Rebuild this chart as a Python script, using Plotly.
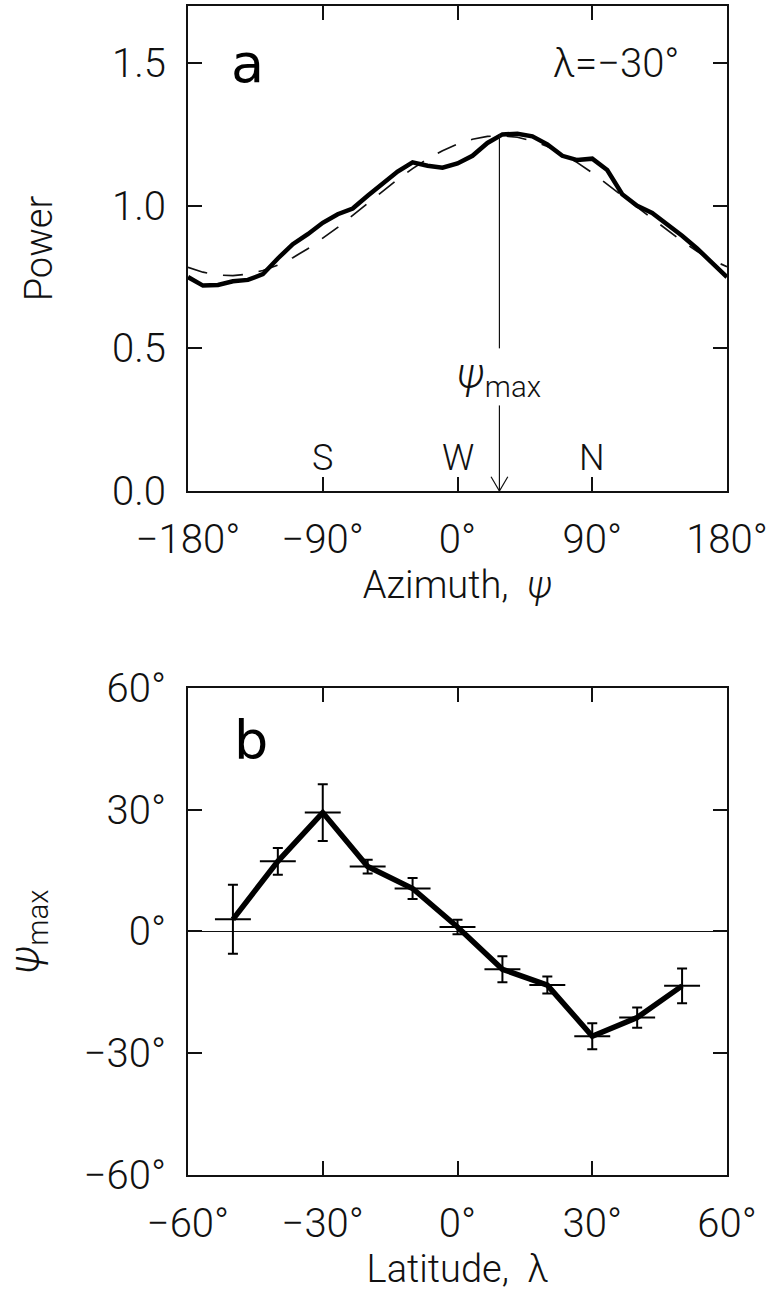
import plotly.graph_objects as go

# ---------------- data: panel a ----------------
azimuth = [-180, -170, -160, -150, -140, -130, -120, -110, -100, -90, -80, -70, -60,
           -50, -40, -30, -20, -10, 0, 10, 20, 30, 40, 50, 60, 70, 80, 90, 100,
           110, 120, 130, 140, 150, 160, 170, 180]
power = [0.75, 0.72, 0.722, 0.735, 0.74, 0.76, 0.815, 0.865, 0.90, 0.94, 0.97, 0.99, 1.035,
         1.08, 1.12, 1.152, 1.14, 1.133, 1.148, 1.175, 1.22, 1.25, 1.252, 1.243, 1.215,
         1.175, 1.16, 1.165, 1.125, 1.04, 1.0, 0.975, 0.935, 0.895, 0.85, 0.80, 0.75]
power_fit = [0.784, 0.767, 0.757, 0.755, 0.760, 0.773, 0.792, 0.818, 0.849, 0.885, 0.924,
             0.966, 1.009, 1.051, 1.092, 1.130, 1.164, 1.193, 1.216, 1.233, 1.243, 1.245,
             1.240, 1.227, 1.208, 1.182, 1.151, 1.115, 1.076, 1.036, 0.995, 0.955, 0.915,
             0.876, 0.840, 0.810, 0.786]
psi_max_a = 28
power_peak = 1.25
compass_labels = ["S", "W", "N"]
compass_az = [-90, 0, 90]
a_xticks = [-180, -90, 0, 90, 180]
a_xticktext = ["\u2212180\u00b0", "\u221290\u00b0", "0\u00b0", "90\u00b0", "180\u00b0"]
a_yticks = [0.0, 0.5, 1.0, 1.5]
a_yticktext = ["0.0", "0.5", "1.0", "1.5"]

# ---------------- data: panel b ----------------
latitude = [-50, -40, -30, -20, -10, 0, 10, 20, 30, 40, 50]
psi_max = [3.0, 17.3, 29.3, 16.0, 10.6, 1.1, -9.3, -13.2, -25.8, -21.2, -13.4]
psi_err = [8.5, 3.3, 7.0, 1.7, 2.6, 1.8, 3.2, 2.1, 3.2, 2.5, 4.3]
lat_err = 4
b_xticks = [-60, -30, 0, 30, 60]
b_xticktext = ["\u221260\u00b0", "\u221230\u00b0", "0\u00b0", "30\u00b0", "60\u00b0"]
b_yticks = [-60, -30, 0, 30, 60]
b_yticktext = ["\u221260\u00b0", "\u221230\u00b0", "0\u00b0", "30\u00b0", "60\u00b0"]

FONT = "Roboto"
INK = "#111111"
TICKFONT = dict(family=FONT, size=40, color=INK, weight=300)
TITLEFONT = dict(family=FONT, size=38, color=INK, weight=300)

fig = go.Figure()

# panel a curves
fig.add_trace(go.Scatter(x=azimuth, y=power_fit, mode="lines",
                         line=dict(color=INK, width=1.7, dash="20px,16px"),
                         xaxis="x", yaxis="y", showlegend=False))
fig.add_trace(go.Scatter(x=azimuth, y=power, mode="lines",
                         line=dict(color="black", width=4.5),
                         xaxis="x", yaxis="y", showlegend=False))
# psi_max marker line (with gap for label)
fig.add_trace(go.Scatter(x=[psi_max_a, psi_max_a, None, psi_max_a, psi_max_a],
                         y=[power_peak, 0.5, None, 0.30, 0.0], mode="lines",
                         line=dict(color=INK, width=1.2),
                         xaxis="x", yaxis="y", showlegend=False))
# open arrow head
fig.add_trace(go.Scatter(x=[psi_max_a - 5.6, psi_max_a, psi_max_a + 5.6],
                         y=[0.05, 0.0, 0.05], mode="lines",
                         line=dict(color=INK, width=1.2),
                         xaxis="x", yaxis="y", showlegend=False))

# panel b
fig.add_trace(go.Scatter(x=latitude, y=psi_max, mode="lines",
                         line=dict(color="black", width=5.5),
                         error_y=dict(type="data", array=psi_err, visible=True,
                                      color="black", thickness=2, width=5),
                         error_x=dict(type="constant", value=lat_err, visible=True,
                                      color="black", thickness=2, width=0),
                         xaxis="x2", yaxis="y2", showlegend=False))

axis_common = dict(showline=True, linecolor=INK, linewidth=2, mirror="allticks",
                   ticks="inside", ticklen=14, tickwidth=2, tickcolor=INK,
                   showgrid=False, tickfont=TICKFONT, automargin=False)

fig.update_layout(
    width=772, height=1294,
    margin=dict(l=188, r=45, t=6, b=119),
    paper_bgcolor="white", plot_bgcolor="white",
    xaxis=dict(domain=[0, 1], range=[-180, 180], anchor="y",
               tickvals=a_xticks, ticktext=a_xticktext, zeroline=False,
               ticklabelstandoff=12,
               title=dict(text="Azimuth,  <i>\u03c8</i>", standoff=8, font=TITLEFONT),
               **axis_common),
    yaxis=dict(domain=[0.5851, 1], range=[0, 1.7], anchor="x",
               tickvals=a_yticks, ticktext=a_yticktext, zeroline=False,
               ticklabelstandoff=12,
               title=dict(text="Power", standoff=48, font=TITLEFONT),
               **axis_common),
    xaxis2=dict(domain=[0, 1], range=[-60, 60], anchor="y2",
                tickvals=b_xticks, ticktext=b_xticktext, zeroline=False,
                ticklabelstandoff=12,
                title=dict(text="Latitude,  \u03bb", standoff=8, font=TITLEFONT),
                **axis_common),
    yaxis2=dict(domain=[0, 0.4166], range=[-60, 60], anchor="x2",
                tickvals=b_yticks, ticktext=b_yticktext,
                zeroline=True, zerolinecolor=INK, zerolinewidth=1.2,
                ticklabelstandoff=12,
                title=dict(text="<i>\u03c8</i><sub>max</sub>", standoff=40,
                           font=dict(family=FONT, size=42, color=INK, weight=300)),
                **axis_common),
)

ann = []
ann.append(dict(x=-140, y=1.5, xref="x", yref="y", text="a", showarrow=False,
                font=dict(family="DejaVu Sans", size=54, color="black")))
ann.append(dict(x=149, y=1.5, xref="x", yref="y", text="\u03bb=\u221230\u00b0",
                xanchor="right", showarrow=False, font=TICKFONT))
ann.append(dict(x=psi_max_a, y=0.40, xref="x", yref="y",
                text="<i>\u03c8</i><sub>max</sub>", showarrow=False,
                font=dict(family=FONT, size=42, color=INK, weight=300)))
for lab, az in zip(compass_labels, compass_az):
    ann.append(dict(x=az, y=0.115, xref="x", yref="y", text=lab, showarrow=False,
                    font=dict(family=FONT, size=36, color=INK, weight=300)))
ann.append(dict(x=-46, y=47, xref="x2", yref="y2", text="b", showarrow=False,
                font=dict(family="DejaVu Sans", size=54, color="black")))
fig.update_layout(annotations=ann)

fig.write_html("out.html")
